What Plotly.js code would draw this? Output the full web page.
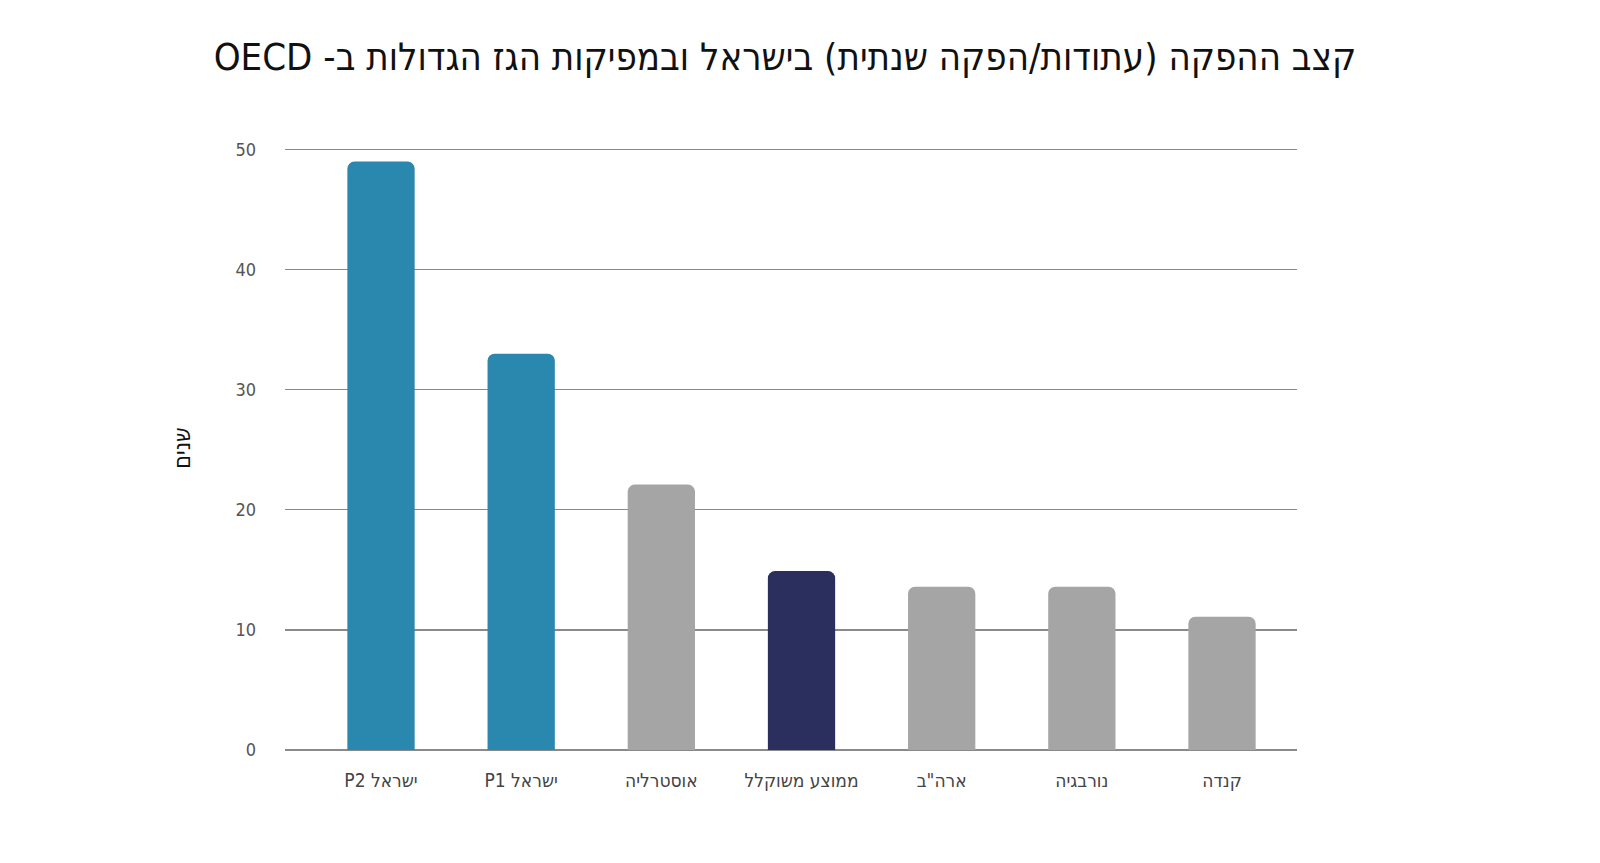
<!DOCTYPE html>
<html>
<head>
<meta charset="utf-8">
<script src="https://cdn.plot.ly/plotly-3.0.1.min.js"></script>
<style>
  html, body { margin: 0; padding: 0; background: #fff; }
  #chart { width: 1600px; height: 863px; }
</style>
</head>
<body>
<div id="chart"></div>
<script>
// --- DATA ---
const categories = ['ישראל P2', 'ישראל P1', 'אוסטרליה', 'ממוצע משוקלל', 'ארה"ב', 'נורבגיה', 'קנדה'];
const years = [49, 33, 22.1, 14.9, 13.6, 13.6, 11.1];
const barColors = ['#2a87ad', '#2a87ad', '#a6a5a6', '#2a2f5e', '#a6a5a6', '#a6a5a6', '#a6a5a6'];
const yTicks = [0, 10, 20, 30, 40, 50];

// wrap text in a right-to-left embedding so mixed Hebrew/Latin reads correctly
const rtl = s => '\u202B' + s + '\u202C';
const FONT = 'Liberation Sans Narrow, DejaVu Sans Condensed, sans-serif';

const trace = {
	type: 'bar',
	x: categories.map(rtl),
	y: years,
	width: 0.48,
	marker: { color: barColors, cornerradius: 7 },
	hoverinfo: 'x+y'
};

const layout = {
	width: 1600,
	height: 863,
	paper_bgcolor: '#fff',
	plot_bgcolor: '#fff',
	margin: { t: 146, l: 285, r: 303, b: 113 },
	showlegend: false,
	title: {
		text: rtl('קצב ההפקה (עתודות/הפקה שנתית) בישראל ובמפיקות הגז הגדולות ב- OECD'),
		x: 0.4906, xanchor: 'center',
		y: 0.934, yanchor: 'middle',
		font: { family: FONT, size: 38, color: '#111' }
	},
	xaxis: {
		type: 'category',
		range: [-0.685, 6.535],
		showgrid: false,
		showline: false,
		zeroline: false,
		ticks: '',
		tickfont: { family: FONT, size: 19, color: '#444' },
		ticklabelstandoff: 17
	},
	yaxis: {
		range: [0, 50.3],
		tickvals: yTicks,
		showgrid: true,
		gridcolor: '#8a8a8a',
		gridwidth: 1.3,
		zeroline: true,
		zerolinecolor: '#8a8a8a',
		zerolinewidth: 1.3,
		showline: false,
		ticks: '',
		ticklabelstandoff: 28,
		tickfont: { family: FONT, size: 18, color: '#555' },
		title: {
			text: 'שנים',
			standoff: 38,
			font: { family: FONT, size: 23, color: '#111' }
		}
	}
};

Plotly.newPlot('chart', [trace], layout, { displayModeBar: false, staticPlot: true });
</script>
</body>
</html>
